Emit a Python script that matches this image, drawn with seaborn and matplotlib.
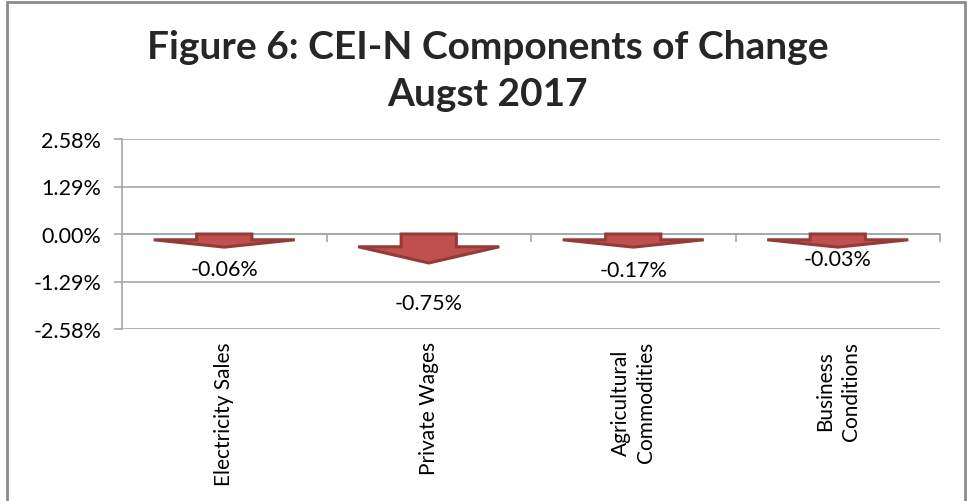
import matplotlib
matplotlib.use("Agg")
import matplotlib.pyplot as plt
import matplotlib.ticker as mtick
from matplotlib.lines import Line2D
import pandas as pd
import seaborn as sns

# components of change, August 2017 (percent)
components = ["Electricity Sales", "Private Wages", "Agricultural\nCommodities", "Business\nConditions"]
changes = [-0.06, -0.75, -0.17, -0.03]
y_ticks = [-2.58, -1.29, 0.00, 1.29, 2.58]
# where the value labels sit (percent below zero), as placed in the original
label_y = [-0.94, -1.88, -0.97, -0.67]

df = pd.DataFrame({"Component": components, "Change": changes})

sns.set_theme(style="white")
plt.rcParams['font.family'] = ['Lato', 'DejaVu Sans']

fig = plt.figure(figsize=(9.67, 5.02), dpi=100)
ax = fig.add_axes([122 / 967, 172 / 502, 818 / 967, 190 / 502])

# seaborn sets up the categorical axis, bars are swapped for arrow shapes
sns.barplot(data=df, x="Component", y="Change", ax=ax, width=0.27, color="#C0504D")

shaft_col = "#C0504D"
edge_col = "#963A37"
for patch, val in zip(list(ax.patches), df["Change"]):
    x0 = patch.get_x()
    w = patch.get_width()
    xc = x0 + w / 2
    length = max(abs(val), 0.34) * 1.05
    shaft_end = -length * 0.44
    tip = -length
    head_half = 0.345
    patch.remove()
    xs = [x0, x0 + w, x0 + w, xc + head_half, xc, xc - head_half, x0]
    ys = [0, 0, shaft_end, shaft_end, tip, shaft_end, shaft_end]
    ax.fill(xs, ys, facecolor=shaft_col, edgecolor=edge_col, linewidth=2.2, zorder=3)

for i, (val, ly) in enumerate(zip(df["Change"], label_y)):
    ax.text(i, ly, f"{val:.2f}%", ha="center", va="center", fontsize=15.5, color="black", zorder=4)

ax.set_xlim(-0.5, len(components) - 0.5)
ax.set_ylim(y_ticks[0], y_ticks[-1])
ax.set_yticks(y_ticks)
ax.yaxis.set_major_formatter(mtick.FormatStrFormatter('%.2f%%'))
ax.grid(axis='y', color="#A6A6A6", linewidth=1.2)
ax.set_axisbelow(True)

for side in ["top", "right"]:
    ax.spines[side].set_visible(False)
ax.spines["left"].set_color("#A6A6A6")
ax.spines["left"].set_linewidth(1.2)
ax.spines["bottom"].set_position(("data", 0))
ax.spines["bottom"].set_color("#A6A6A6")
ax.spines["bottom"].set_linewidth(1.2)
ax.spines["bottom"].set_zorder(2)

ax.tick_params(axis='y', left=True, length=6, width=1.2, color="#A6A6A6", labelsize=15.5, labelcolor="black", pad=9)
ax.set_xticks(range(len(components)))
ax.set_xticklabels(components, rotation=90, ha="center", va="top", fontsize=15, linespacing=1.35)
ax.tick_params(axis='x', which='major', bottom=False, length=0, pad=77, labelcolor="black")
ax.set_xticks([i + 0.5 for i in range(len(components))], minor=True)
ax.tick_params(axis='x', which='minor', bottom=True, length=6, width=1.2, color="#A6A6A6", direction="out")
ax.set_xlabel("")
ax.set_ylabel("")

fig.text(488 / 967, 1 - 71 / 502, "Figure 6: CEI-N Components of Change\nAugst 2017",
         ha="center", va="center", fontsize=28, fontweight="bold", linespacing=1.4)

# outer chart frame (left, top, right)
frame = dict(color="#8C8C8C", linewidth=2, transform=fig.transFigure)
fig.add_artist(Line2D([7 / 967, 7 / 967], [0, 1 - 3 / 502], **frame))
fig.add_artist(Line2D([7 / 967, 965 / 967], [1 - 3 / 502, 1 - 3 / 502], **frame))
fig.add_artist(Line2D([965 / 967, 965 / 967], [0, 1 - 3 / 502], **frame))

fig.savefig("out.png", dpi=100)
